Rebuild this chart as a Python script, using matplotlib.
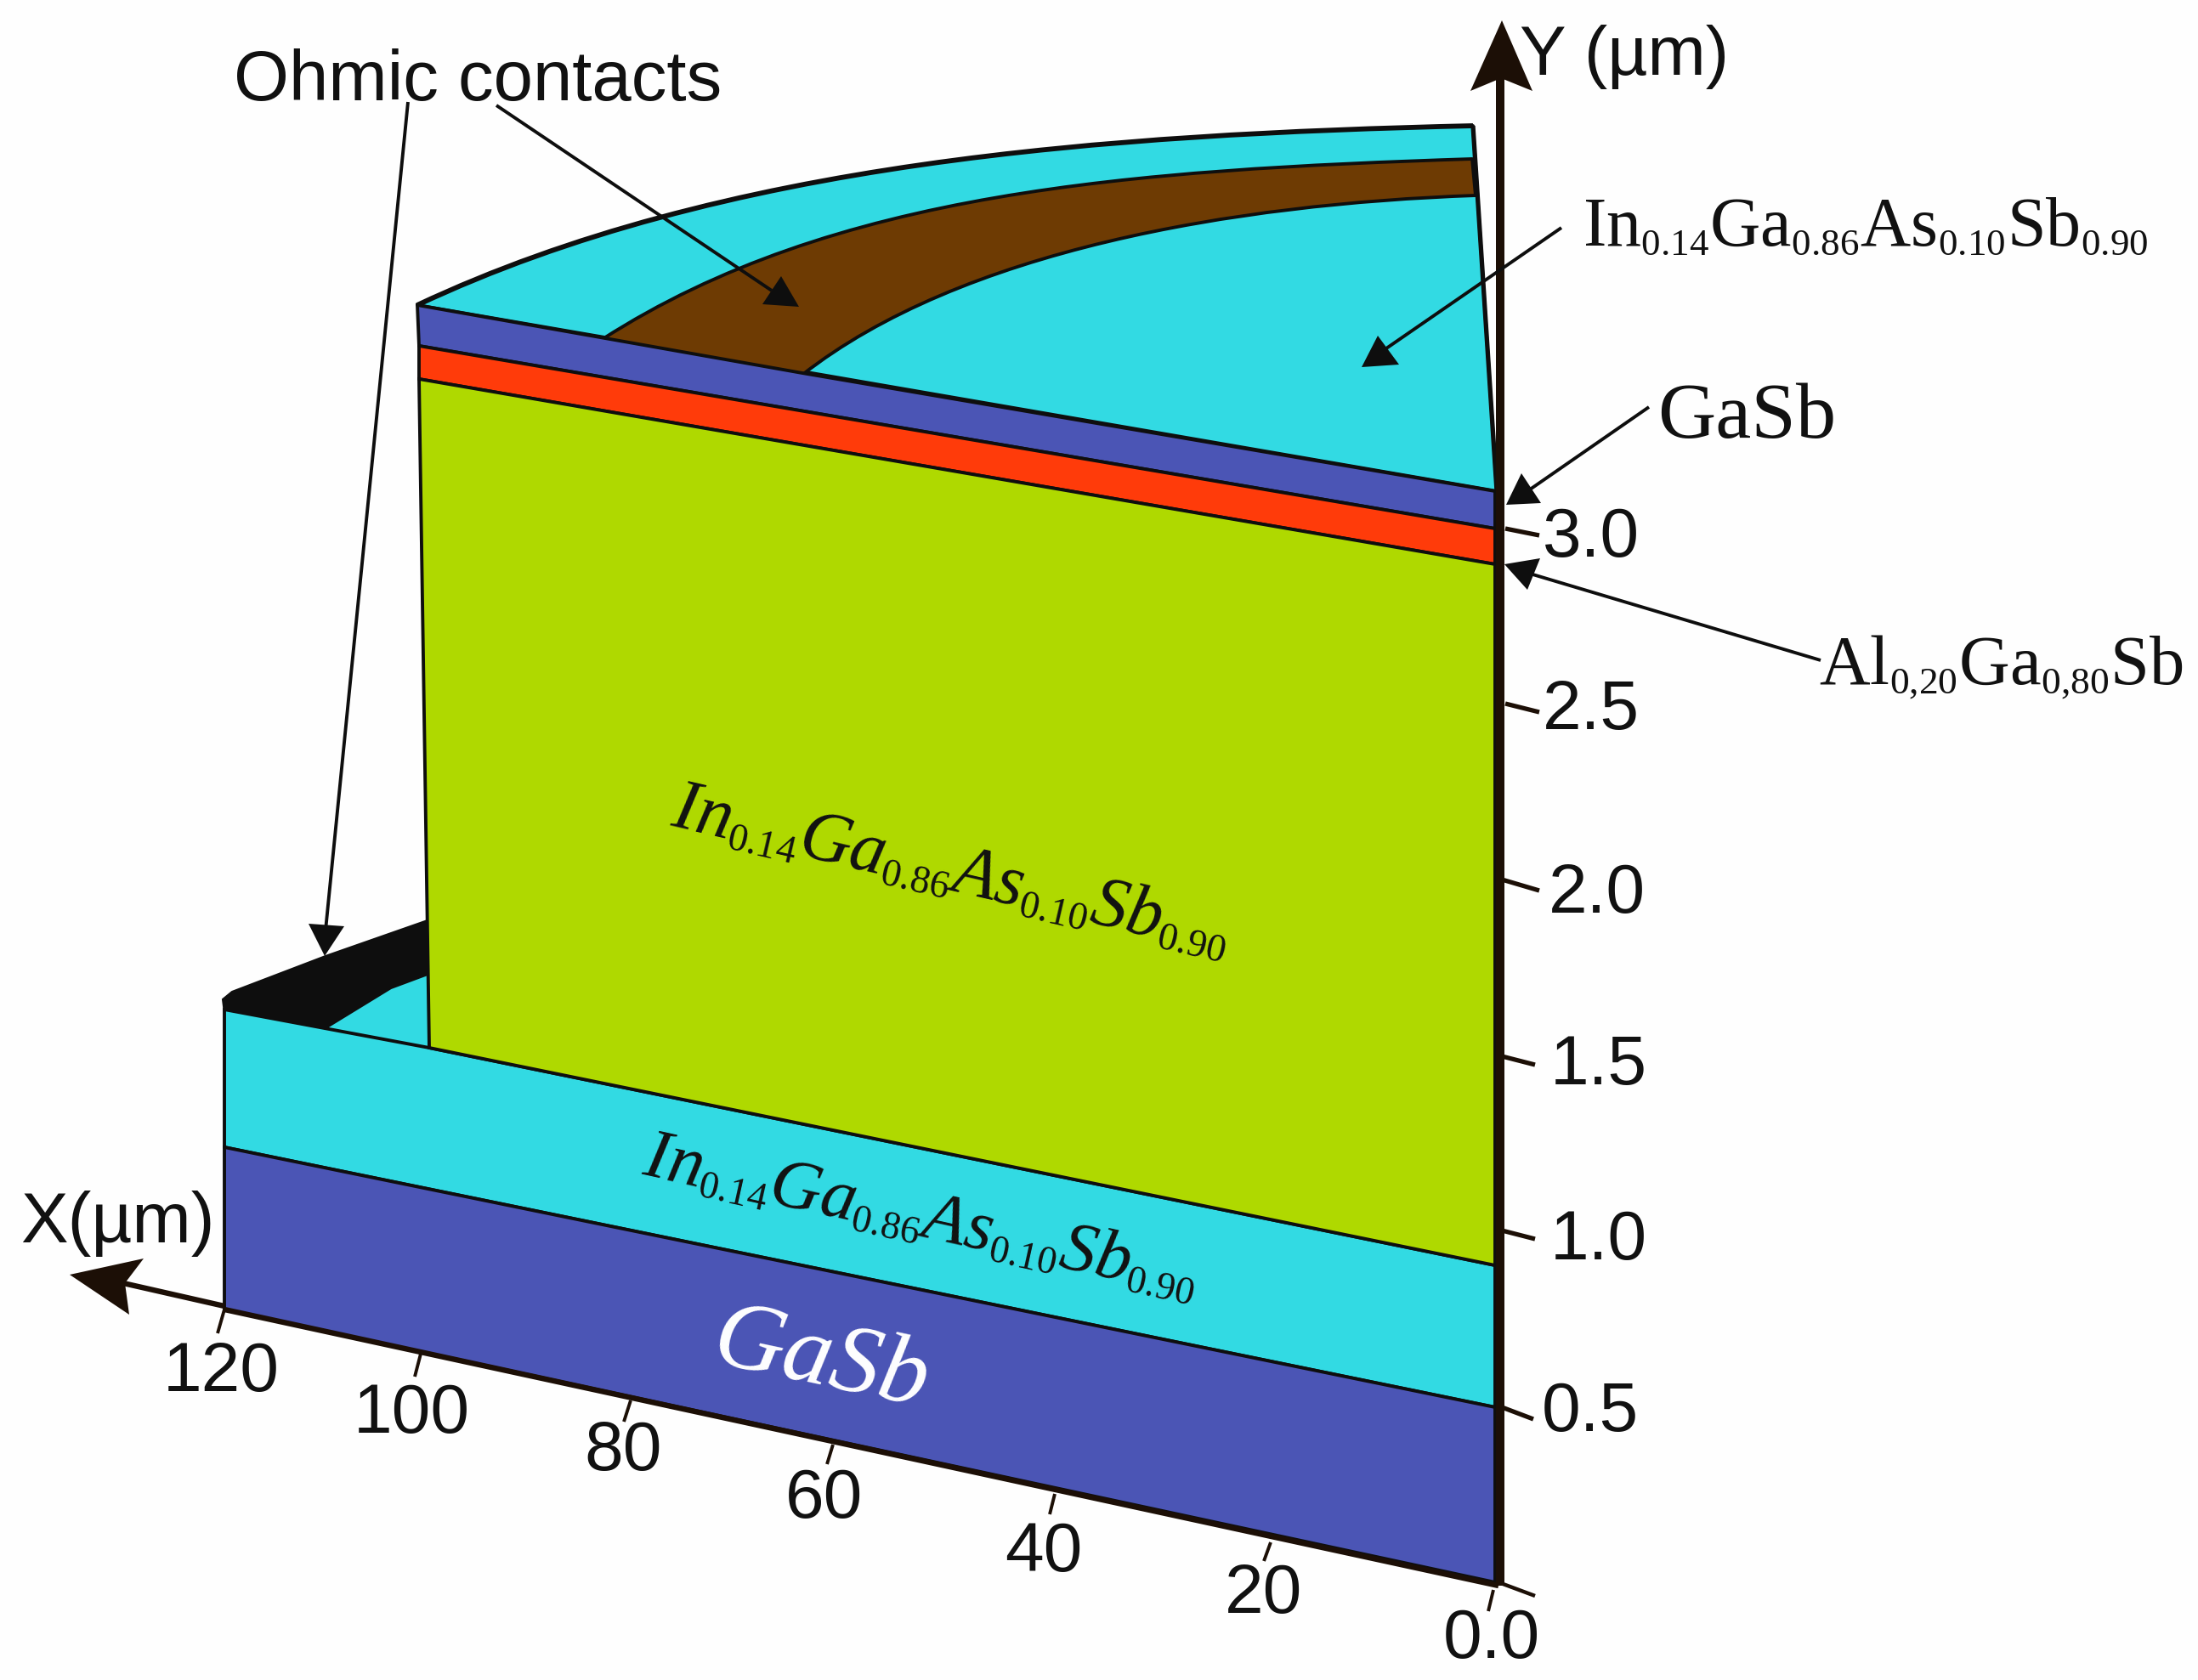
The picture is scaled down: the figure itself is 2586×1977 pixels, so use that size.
import matplotlib
matplotlib.use("Agg")
import matplotlib.pyplot as plt
from matplotlib.path import Path
from matplotlib.patches import PathPatch, Polygon
import matplotlib._mathtext as _mt

_mt.SHRINK_FACTOR = 0.55
plt.rcParams.update({
    "mathtext.fontset": "custom",
    "mathtext.rm": "Liberation Serif",
    "mathtext.it": "Liberation Serif:italic",
    "mathtext.bf": "Liberation Serif:bold",
    "font.family": ["Liberation Sans", "DejaVu Sans"],
})

# ---- colours
CYAN, GREEN, BLUE, RED, BROWN = "#32DAE3", "#AFD900", "#4B55B5", "#FF3B0A", "#6E3B03"
INK, AXIS = "#0E0E0E", "#1C0F06"

# ---- layer outlines, read in picture units (x, y)
cap_arc = [(491, 359), (850, 190), (1300, 158), (1733, 148)]
cap_right = [(1733, 148), (1761, 578)]
cap_front = [(1761, 578), (491, 359)]
contact_top_outer = [(709, 399), (980, 225), (1330, 200), (1732, 187)]
contact_top_right = [(1732, 187), (1736, 230)]
contact_top_inner = [(1736, 230), (1450, 240), (1130, 295), (944, 441)]
gasb_cap = [(491, 359), (944, 439), (1759, 578), (1759, 622), (493, 407)]
algasb = [(493, 407), (1759, 622), (1759, 664), (493, 446)]
ingaassb_active = [(493, 446), (1759, 664), (1759, 1489), (505, 1233)]
ingaassb_lower = [(264, 1188), (505, 1233), (1759, 1489), (1759, 1656), (264, 1350)]
gasb_substrate = [(264, 1350), (1759, 1656), (1759, 1862), (264, 1541)]
contact_low = [(262, 1176), (273, 1167), (383, 1125), (503, 1083), (503, 1147),
               (460, 1163), (380, 1212), (264, 1192)]
cyan_low = [(380, 1208), (460, 1163), (503, 1147), (503, 1236)]

# ---- axes
y_axis_line = [(1765, 1866), (1765, 90)]
y_axis_head = [(1767, 24), (1730, 107), (1766, 92), (1803, 107)]
x_axis_line = [(1763, 1866), (264, 1541)]
x_axis_shaft = [(264, 1537), (145, 1510)]
x_axis_head = [(82, 1500), (169, 1481), (147, 1510), (152, 1547)]

y_tick_labels = ["3.0", "2.5", "2.0", "1.5", "1.0", "0.5"]
y_tick_start = [(1771, 622), (1771, 828), (1767, 1035), (1767, 1243), (1767, 1448), (1767, 1656)]
y_tick_end = [(1811, 630), (1811, 838), (1811, 1048), (1806, 1253), (1806, 1458), (1804, 1670)]
y_label_xy = [(1815, 655), (1815, 858), (1822, 1074), (1824, 1276), (1824, 1482), (1814, 1684)]

x_tick_labels = ["120", "100", "80", "60", "40", "20", "0.0"]
x_tick_start = [(264, 1541), (495, 1593), (742, 1648), (980, 1700), (1241, 1758), (1495, 1815), (1757, 1871)]
x_tick_end = [(256, 1569), (488, 1620), (734, 1673), (973, 1723), (1235, 1782), (1487, 1837), (1751, 1896)]
x_label_xy = [(260, 1637), (484, 1686), (733, 1730), (970, 1786), (1228, 1849), (1487, 1898), (1755, 1951)]
origin_tick = [(1763, 1862), (1806, 1878)]

# ---- callouts
leaders = [
    ([(480, 120), (383, 1095)], [(363, 1087), (405, 1090), (382, 1125)]),
    ([(584, 124), (908, 342)], [(919, 325), (897, 358), (940, 361)]),
    ([(1837, 268), (1631, 410)], [(1621, 395), (1602, 432), (1646, 429)]),
    ([(1940, 479), (1800, 576)], [(1790, 557), (1772, 594), (1813, 592)]),
    ([(2142, 777), (1800, 675)], [(1770, 664), (1812, 657), (1797, 694)]),
]

# ---- labels
INGAASSB = r"$\mathrm{In}_{\mathrm{0.14}}\mathrm{Ga}_{\mathrm{0.86}}\mathrm{As}_{\mathrm{0.10}}\mathrm{Sb}_{\mathrm{0.90}}$"
INGAASSB_IT = r"$\mathit{In}_{\mathit{0.14}}\mathit{Ga}_{\mathit{0.86}}\mathit{As}_{\mathit{0.10}}\mathit{Sb}_{\mathit{0.90}}$"
ALGASB = r"$\mathrm{Al}_{\mathrm{0{,}20}}\mathrm{Ga}_{\mathrm{0{,}80}}\mathrm{Sb}$"

fig = plt.figure(figsize=(25.86, 19.77), dpi=100, facecolor="#FEFEFE")
ax = fig.add_axes([0, 0, 1, 1])
ax.set_xlim(0, 2586)
ax.set_ylim(1977, 0)
ax.axis("off")


def poly(points, face, lw=2.8, edge=INK, z=2):
    ax.add_patch(Polygon(points, closed=True, facecolor=face, edgecolor=edge,
                         linewidth=lw, joinstyle="miter", zorder=z))


def curved(runs, face, lw=2.8, z=2):
    verts, codes = [], []
    for i, run in enumerate(runs):
        if i == 0:
            verts.append(run[0])
            codes.append(Path.MOVETO)
        if len(run) == 4:
            verts += run[1:]
            codes += [Path.CURVE4] * 3
        else:
            verts += run[1:]
            codes += [Path.LINETO] * (len(run) - 1)
    verts.append(verts[0])
    codes.append(Path.CLOSEPOLY)
    ax.add_patch(PathPatch(Path(verts, codes), facecolor=face, edgecolor=INK,
                           linewidth=lw, joinstyle="round", zorder=z))


def seg(points, lw, color=INK, z=4, cap="butt"):
    xs, ys = zip(*points)
    ax.plot(xs, ys, color=color, linewidth=lw, solid_capstyle=cap, zorder=z)


# top surface
curved([cap_arc, cap_right, cap_front], CYAN)
curved([contact_top_outer, contact_top_right, contact_top_inner], BROWN, z=3)
arc_path = Path(cap_arc, [Path.MOVETO] + [Path.CURVE4] * 3)
ax.add_patch(PathPatch(arc_path, facecolor="none", edgecolor=INK, linewidth=4.2, zorder=4))
seg(cap_right, 3.8)

# low contact
poly(cyan_low, CYAN, lw=1.0, edge=CYAN, z=2)
poly(contact_low, INK, lw=1.5, z=3)

# layers
poly(gasb_cap, BLUE, z=5)
poly(algasb, RED, z=5)
poly(ingaassb_lower, CYAN, z=5)
poly(ingaassb_active, GREEN, z=6)
poly(gasb_substrate, BLUE, z=6)

# axes
seg(y_axis_line, 7.2, AXIS, z=8)
ax.add_patch(Polygon(y_axis_head, closed=True, facecolor=AXIS, edgecolor="none", zorder=8))
seg(x_axis_line, 4.6, AXIS, z=8)
seg(x_axis_shaft, 4.6, AXIS, z=8)
ax.add_patch(Polygon(x_axis_head, closed=True, facecolor=AXIS, edgecolor="none", zorder=8))
for a, b in zip(y_tick_start, y_tick_end):
    seg([a, b], 3.8, AXIS, z=7)
for a, b in zip(x_tick_start, x_tick_end):
    seg([a, b], 2.8, AXIS, z=7)
seg(origin_tick, 3.2, AXIS, z=7)

# callouts
for line, head in leaders:
    seg(line, 2.8, INK, z=9)
    ax.add_patch(Polygon(head, closed=True, facecolor=INK, edgecolor="none", zorder=9))

# text
for s, (x, y) in zip(y_tick_labels, y_label_xy):
    ax.text(x, y, s, fontsize=59, ha="left", va="baseline", color="#111111", zorder=10)
for s, (x, y) in zip(x_tick_labels, x_label_xy):
    ax.text(x, y, s, fontsize=59, ha="center", va="baseline", color="#111111", zorder=10)

ax.text(275, 118, "Ohmic contacts", fontsize=60, ha="left", va="baseline", color="#111111", zorder=10)
ax.text(1788, 88, "Y (µm)", fontsize=59, ha="left", va="baseline", color="#111111", zorder=10)
ax.text(24, 1462, "X(µm)", fontsize=60, ha="left", va="baseline", color="#111111", zorder=10)

serif = dict(ha="left", va="baseline", rotation_mode="anchor", color="#111111", zorder=10,
             family="Liberation Serif")
ax.text(1862, 289, INGAASSB, fontsize=59, **serif)
ax.text(1950, 515, "GaSb", fontsize=68, **serif)
ax.text(2140, 805, ALGASB, fontsize=59.5, **serif)
ax.text(787, 972, INGAASSB_IT, fontsize=60.5, rotation=-13, **serif)
ax.text(754, 1381, INGAASSB_IT, fontsize=60, rotation=-12.5, **serif)
ax.text(835, 1603, "GaSb", fontsize=83, rotation=-12, style="italic", ha="left", va="baseline",
        rotation_mode="anchor", color="white", zorder=10, family="Liberation Serif")

fig.savefig("out.png", dpi=100, facecolor=fig.get_facecolor())
